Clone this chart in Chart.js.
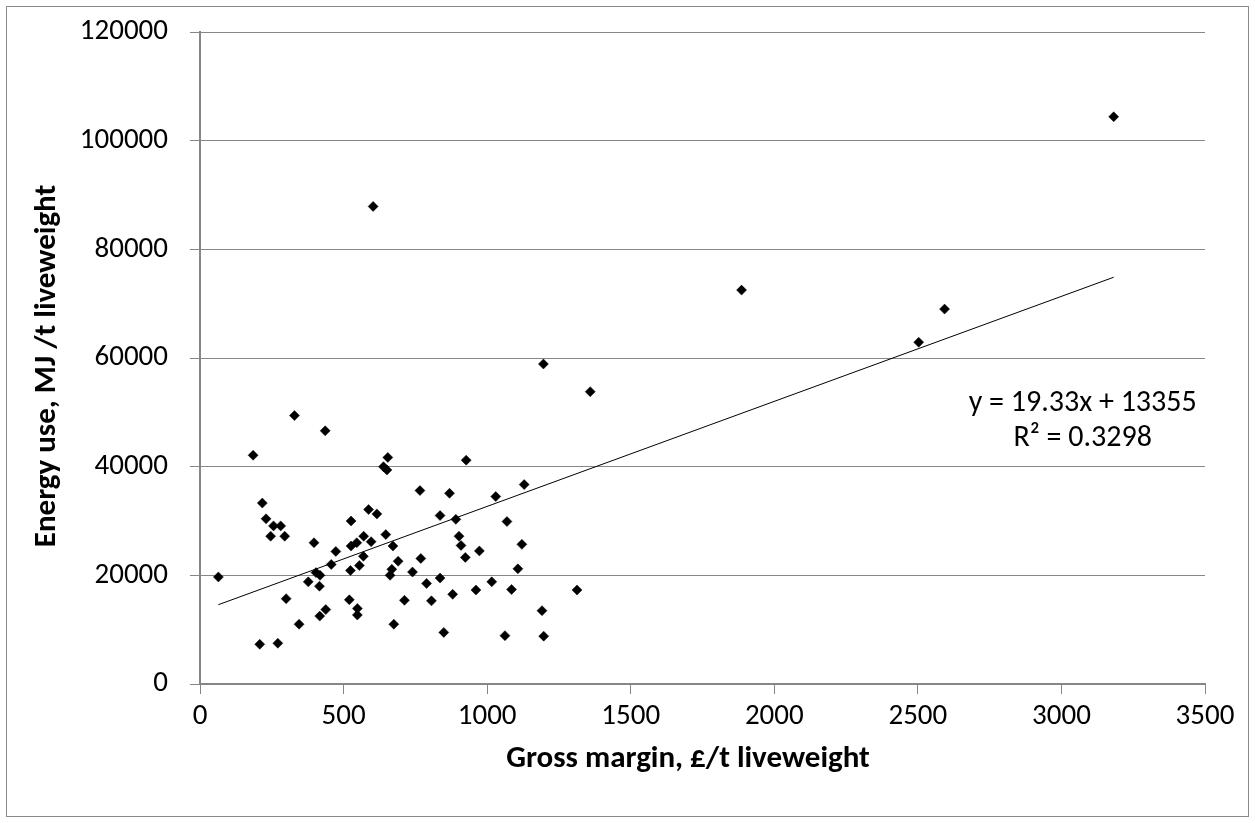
<!DOCTYPE html>
<html>
<head>
<meta charset="utf-8">
<script src="https://cdn.jsdelivr.net/npm/chart.js@4.4.0/dist/chart.umd.min.js"></script>
<style>
  html, body { margin: 0; padding: 0; background: #ffffff; }
  #wrap { position: relative; width: 1255px; height: 823px; }
</style>
</head>
<body>
<div id="wrap"><canvas id="c" width="1255" height="823"></canvas></div>
<script>
// ---- Data ----
const grossMargin = [
  329, 436, 185, 654, 639, 651, 217, 230, 256, 281,
  246, 295, 397, 526, 587, 616, 473, 526, 546, 570,
  596, 647, 569, 457, 524, 555, 404, 418, 377, 416,
  64, 300, 520, 548, 548, 438, 417, 345, 208, 271,
  927, 766, 869, 1129, 1030, 836, 891, 1069, 672, 902,
  909, 924, 973, 1121, 690, 769, 668, 662, 740, 1107,
  789, 836, 880, 961, 1016, 1085, 712, 806, 1313, 1191,
  675, 849, 1062, 1197, 1359,
  603, 1196, 1886, 2503, 2593, 3182
];
const energyUse = [
  49400, 46600, 42100, 41700, 40000, 39400, 33300, 30400, 29100, 29100,
  27200, 27200, 26000, 30000, 32100, 31300, 24400, 25400, 26000, 27200,
  26200, 27500, 23500, 22000, 20900, 21800, 20500, 20000, 18800, 18000,
  19700, 15700, 15500, 13900, 12700, 13700, 12500, 11000, 7300, 7500,
  41200, 35600, 35100, 36700, 34500, 31000, 30300, 29900, 25400, 27200,
  25500, 23300, 24500, 25700, 22600, 23100, 21100, 20000, 20600, 21200,
  18500, 19500, 16500, 17300, 18800, 17400, 15400, 15300, 17300, 13500,
  11000, 9500, 8900, 8800, 53800,
  87900, 58900, 72500, 62900, 69000, 104400
];
const trendSlope = 19.33;
const trendIntercept = 13355;
const trendLabels = ["y = 19.33x + 13355", "R\u00B2 = 0.3298"];
const xTitle = "Gross margin, \u00A3/t liveweight";
const yTitle = "Energy use, MJ /t liveweight";

const points = grossMargin.map((g, i) => ({ x: g, y: energyUse[i] }));
const xMin = Math.min(...grossMargin), xMax = Math.max(...grossMargin);
const trend = [
  { x: xMin, y: trendSlope * xMin + trendIntercept },
  { x: xMax, y: trendSlope * xMax + trendIntercept }
];

const FONT = "Carlito, Calibri, Lato, 'Open Sans', sans-serif";
const GRID = '#868686';

const framePlugin = {
  id: 'frame',
  afterDraw(chart) {
    const ctx = chart.ctx;
    ctx.save();
    ctx.strokeStyle = '#8a8a8a';
    ctx.lineWidth = 1;
    ctx.strokeRect(6.5, 6.5, 1242, 810);
    ctx.fillStyle = '#000';
    ctx.textAlign = 'center';
    ctx.textBaseline = 'middle';
    // axis titles
    ctx.font = "bold 31px " + FONT;
    ctx.fillText(xTitle, 688, 759);
    ctx.save();
    ctx.translate(47, 366);
    ctx.rotate(-Math.PI / 2);
    ctx.fillText(yTitle, 0, 0);
    ctx.restore();
    // trendline equation
    const xs = chart.scales.x, ys = chart.scales.y;
    ctx.font = "30px " + FONT;
    ctx.fillText(trendLabels[0], xs.getPixelForValue(3074), ys.getPixelForValue(51700));
    ctx.fillText(trendLabels[1], xs.getPixelForValue(3074), ys.getPixelForValue(45100));
    ctx.restore();
  }
};

new Chart(document.getElementById('c'), {
  type: 'scatter',
  data: {
    datasets: [
      {
        label: 'Energy use',
        data: points,
        pointStyle: 'rectRot',
        pointRadius: 5,
        pointBorderWidth: 0.5,
        backgroundColor: '#000',
        borderColor: '#000',
        order: 1
      },
      {
        type: 'line',
        label: 'Linear trend',
        data: trend,
        borderColor: '#000',
        borderWidth: 1,
        pointRadius: 0,
        fill: false,
        order: 2
      }
    ]
  },
  plugins: [framePlugin],
  options: {
    responsive: false,
    animation: false,
    layout: { padding: { top: 32, right: 50, bottom: 0, left: 0 } },
    plugins: { legend: { display: false }, tooltip: { enabled: false } },
    scales: {
      x: {
        type: 'linear',
        min: 0, max: 3500,
        afterFit(scale) { scale.height = 139; },
        ticks: { stepSize: 500, color: '#000', font: { family: FONT, size: 29 }, padding: 5, maxRotation: 0,
                 callback: (v) => String(v) },
        grid: { drawOnChartArea: false, drawTicks: true, tickLength: 10, color: GRID, lineWidth: 1 },
        border: { display: true, color: GRID, width: 2 },
        title: { display: false }
      },
      y: {
        type: 'linear',
        min: 0, max: 120000,
        afterFit(scale) { scale.width = 200; scale.paddingTop = 0; scale.paddingBottom = 0; },
        ticks: { stepSize: 20000, color: '#000', font: { family: FONT, size: 29 }, padding: 22,
                 callback: (v) => String(v) },
        grid: { drawOnChartArea: true, drawTicks: true, tickLength: 10, color: GRID, lineWidth: 1 },
        border: { display: true, color: GRID, width: 2 },
        title: { display: false }
      }
    }
  }
});
</script>
</body>
</html>
